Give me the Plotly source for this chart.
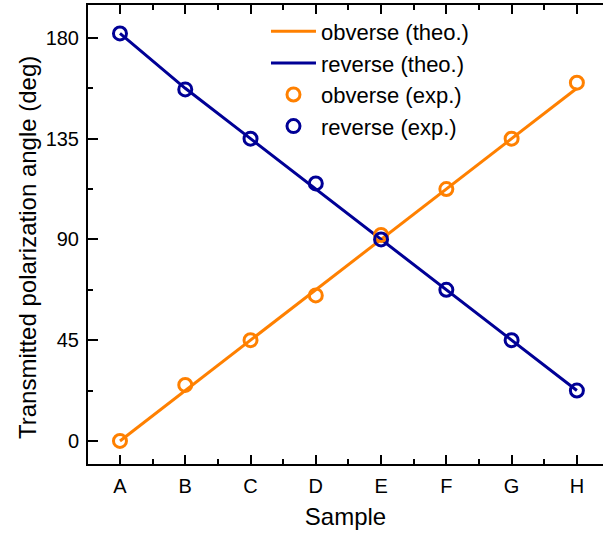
import plotly.graph_objects as go

samples = ["A", "B", "C", "D", "E", "F", "G", "H"]
obverse_theo = [0, 22.5, 45, 67.5, 90, 112.5, 135, 157.5]
reverse_theo = [182, 157.5, 135, 112.5, 90, 67.5, 45, 22.5]
obverse_exp = [0, 25, 45, 65, 92, 112.5, 135, 160]
reverse_exp = [182, 157, 135, 115, 90, 67.5, 45, 22.5]
y_ticks = [0, 45, 90, 135, 180]

ORANGE = "#FF8000"
BLUE = "#000096"
FONT = "Liberation Sans, Arial, sans-serif"

xi = list(range(len(samples)))

fig = go.Figure()
fig.add_trace(go.Scatter(x=xi, y=obverse_theo, mode="lines", name="obverse (theo.)",
                         line=dict(color=ORANGE, width=3)))
fig.add_trace(go.Scatter(x=xi, y=reverse_theo, mode="lines", name="reverse (theo.)",
                         line=dict(color=BLUE, width=3)))
fig.add_trace(go.Scatter(x=xi, y=obverse_exp, mode="markers", name="obverse (exp.)",
                         marker=dict(symbol="circle-open", size=13, color=ORANGE,
                                     line=dict(width=3, color=ORANGE))))
fig.add_trace(go.Scatter(x=xi, y=reverse_exp, mode="markers", name="reverse (exp.)",
                         marker=dict(symbol="circle-open", size=13, color=BLUE,
                                     line=dict(width=3, color=BLUE))))

fig.update_layout(
    width=603, height=535,
    margin=dict(l=88, r=0, t=5, b=71),
    plot_bgcolor="white", paper_bgcolor="white",
    font=dict(family=FONT, color="black", size=20),
    legend=dict(x=0.3456, y=0.988, xanchor="left", yanchor="top",
                bgcolor="rgba(0,0,0,0)", font=dict(size=22), tracegroupgap=0,
                itemwidth=45),
    annotations=[dict(text="Transmitted polarization angle (deg)", textangle=-90,
                      xref="paper", yref="paper", x=-0.1165, y=0.4706,
                      xanchor="center", yanchor="middle", showarrow=False,
                      font=dict(size=24, family=FONT, color="black"))],
)
fig.update_xaxes(
    range=[-0.49, 7.40], tickmode="array", tickvals=xi, ticktext=samples,
    ticks="inside", ticklen=9, tickwidth=1.5, tickcolor="black",
    showline=True, linecolor="black", linewidth=2, mirror="ticks",
    showgrid=False, zeroline=False,
    minor=dict(dtick=0.5, tick0=0, ticks="inside", ticklen=5, tickwidth=1.5, tickcolor="black", showgrid=False),
    title=dict(text="Sample", font=dict(size=24), standoff=12),
    tickfont=dict(size=20), ticklabelstandoff=3,
)
fig.update_yaxes(
    range=[-10.3, 194.7], tickmode="array", tickvals=y_ticks,
    ticks="inside", ticklen=10, tickwidth=1.5, tickcolor="black",
    showline=True, linecolor="black", linewidth=2, mirror=False,
    showgrid=False, zeroline=False,
    minor=dict(dtick=22.5, tick0=0, ticks="inside", ticklen=5, tickwidth=1.5, tickcolor="black", showgrid=False),
    tickfont=dict(size=20), ticklabelstandoff=3,
)

fig.write_html("out.html")
